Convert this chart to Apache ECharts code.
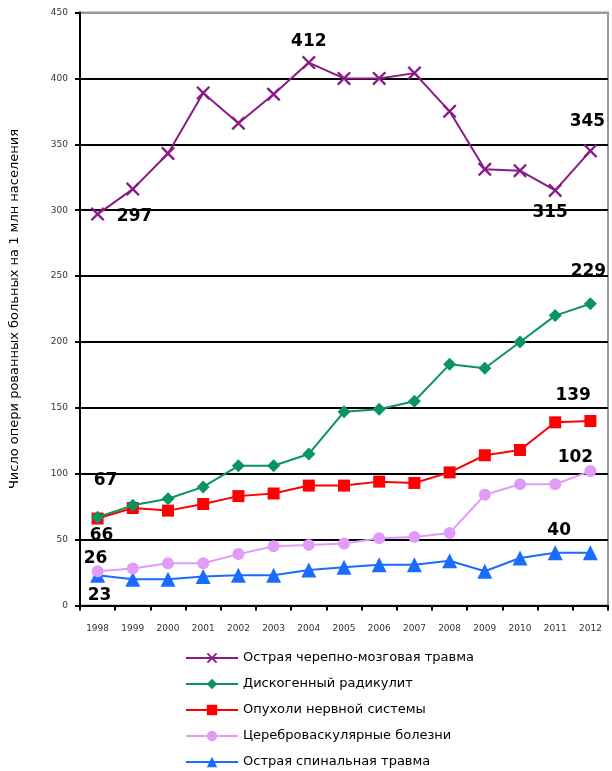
<!DOCTYPE html>
<html>
<head>
<meta charset="utf-8">
<script src="https://cdn.jsdelivr.net/npm/echarts@6/dist/echarts.min.js"></script>
<style>
  html, body { margin: 0; padding: 0; background: #fff; }
  #chart { width: 612px; height: 771px; }
</style>
</head>
<body>
<div id="chart"></div>
<script>
// Years on the horizontal axis
const years = ['1998', '1999', '2000', '2001', '2002', '2003', '2004', '2005',
               '2006', '2007', '2008', '2009', '2010', '2011', '2012'];

// Operated patients per 1 million population, by diagnosis
const traumaBrain  = [297, 316, 343, 389, 366, 388, 412, 400, 400, 404, 375, 331, 330, 315, 345];
const radiculitis  = [67, 76, 81, 90, 106, 106, 115, 147, 149, 155, 183, 180, 200, 220, 229];
const tumors       = [66, 74, 72, 77, 83, 85, 91, 91, 94, 93, 101, 114, 118, 139, 140];
const cerebroVasc  = [26, 28, 32, 32, 39, 45, 46, 47, 51, 52, 55, 84, 92, 92, 102];
const traumaSpinal = [23, 20, 20, 22, 23, 23, 27, 29, 31, 31, 34, 26, 36, 40, 40];

const seriesNames = [
  'Острая черепно-мозговая травма',
  'Дискогенный радикулит',
  'Опухоли нервной системы',
  'Цереброваскулярные болезни',
  'Острая спинальная травма'
];

const yTicks = { min: 0, max: 450, interval: 50 };

// Which points carry a value label, and where the label sits relative to the point
const labelSpots = [
  [[0, [37, 2]], [6, [0, -21]], [13, [-5, 22]], [14, [-3, -29]]],
  [[0, [8, -37]], [14, [-2, -32]]],
  [[0, [4, 17]], [13, [18, -27]]],
  [[0, [-2, -13]], [14, [-15, -14]]],
  [[0, [2, 20]], [13, [4, -22]]]
];

const colors = ['#8a1a87', '#0a9460', '#ff0000', '#e09cf6', '#1a6cff'];
const crossPath = 'path://M0,1.2 L1.2,0 L5,3.8 L8.8,0 L10,1.2 L6.2,5 L10,8.8 L8.8,10 L5,6.2 L1.2,10 L0,8.8 L3.8,5 Z';
const symbols = [crossPath, 'diamond', 'rect', 'circle', 'triangle'];
const symbolSizes = [14, 13, 12, 12, 15];

function buildData(values, spots) {
  return values.map((v, i) => {
    const spot = spots.find(s => s[0] === i);
    if (!spot) return v;
    return {
      value: v,
      label: {
        show: true,
        position: 'inside',
        offset: spot[1],
        formatter: '{c}',
        color: '#000',
        fontFamily: 'DejaVu Sans',
        fontWeight: 'bold',
        fontSize: 17,
        align: 'center',
        verticalAlign: 'middle'
      }
    };
  });
}

const allValues = [traumaBrain, radiculitis, tumors, cerebroVasc, traumaSpinal];

const series = allValues.map((vals, k) => ({
  name: seriesNames[k],
  type: 'line',
  data: buildData(vals, labelSpots[k]),
  symbol: symbols[k],
  symbolSize: symbolSizes[k],
  showAllSymbol: true,
  itemStyle: { color: colors[k] },
  lineStyle: { color: colors[k], width: 2 },
  label: { show: false },
  z: 10 - k,
  animation: false
}));

const gridLineColors = ['#000', '#000', '#000', '#000', '#000', '#000', '#000', '#000', '#000', '#999'];

const chart = echarts.init(document.getElementById('chart'), null, { renderer: 'canvas' });
chart.setOption({
  animation: false,
  backgroundColor: '#fff',
  grid: {
    left: 80, right: 4, top: 12.5, bottom: 165.5,
    show: true, borderColor: '#9a9a9a', borderWidth: 2
  },
  legend: {
    orient: 'vertical',
    left: 185,
    top: 650,
    padding: 0,
    itemWidth: 52,
    itemHeight: 13,
    itemGap: 10,
    textStyle: { color: '#000', fontFamily: 'DejaVu Sans', fontSize: 13, lineHeight: 16 },
    data: seriesNames
  },
  xAxis: {
    type: 'category',
    data: years,
    boundaryGap: true,
    axisLine: { lineStyle: { color: '#000', width: 2 } },
    axisTick: { show: true, length: 5, lineStyle: { color: '#000', width: 2 } },
    axisLabel: { color: '#333', fontFamily: 'DejaVu Sans', fontSize: 9, margin: 19 },
    splitLine: { show: false }
  },
  yAxis: {
    type: 'value',
    min: yTicks.min, max: yTicks.max, interval: yTicks.interval,
    name: 'Число опери рованных больных на 1 млн населения',
    nameLocation: 'middle',
    nameGap: 59,
    nameTextStyle: { color: '#000', fontFamily: 'DejaVu Sans', fontSize: 13 },
    axisLine: { show: true, lineStyle: { color: '#000', width: 2 } },
    axisTick: { show: true, length: 5, lineStyle: { color: '#000', width: 2 } },
    axisLabel: { color: '#333', fontFamily: 'DejaVu Sans', fontSize: 9, margin: 12 },
    splitLine: { show: true, lineStyle: { color: gridLineColors, width: 2 } }
  },
  series: series
});
</script>
</body>
</html>
